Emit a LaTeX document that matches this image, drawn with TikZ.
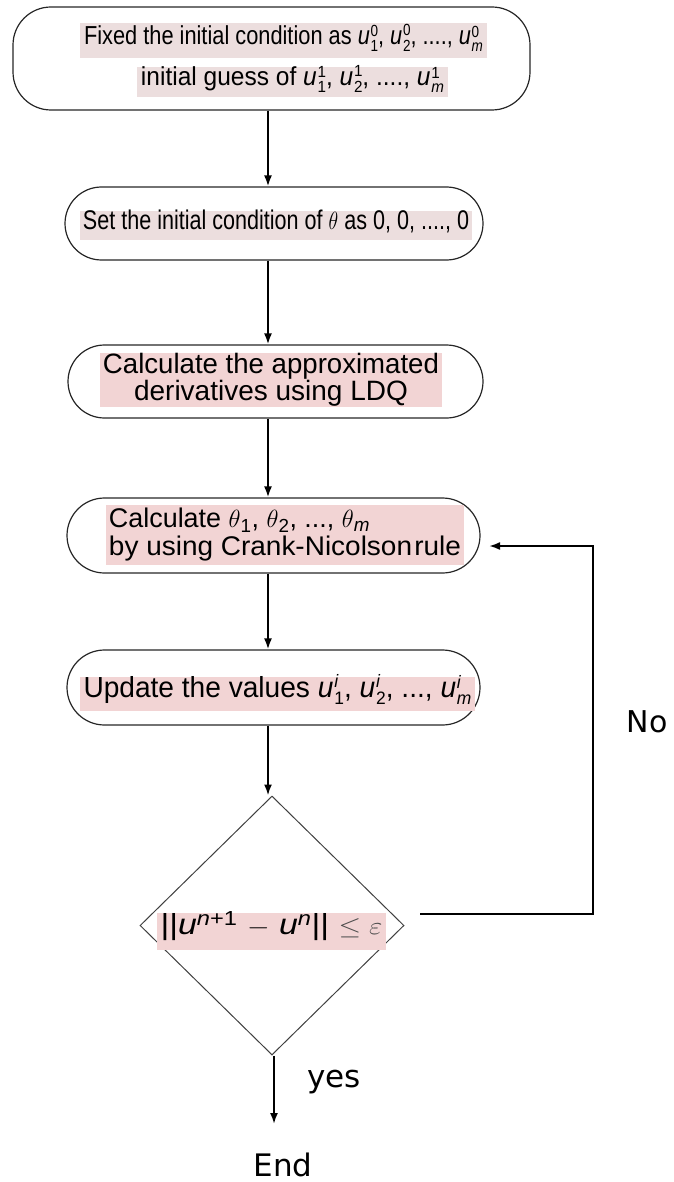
\documentclass[tikz,border=0pt]{standalone}
\usepackage{fontspec}
\setmainfont{Liberation Sans}
\newfontfamily\dejavu{DejaVu Sans}
\usepackage{graphicx}
\usetikzlibrary{shapes.geometric,shapes.misc,arrows.meta,calc}
\newcommand\uu[2]{\textit{u}\kern0.03em\raisebox{-0.26em}{\scalebox{0.62}{\def\arraystretch{0.8}\begin{tabular}[b]{@{}l@{}}#2\\#1\end{tabular}}}}
\newcommand\fw[2]{\resizebox{#1}{\height}{#2}}
\definecolor{hlA}{RGB}{236,222,222}
\definecolor{hlB}{RGB}{242,212,212}
\tikzset{
  pill/.style={draw=black!85, line width=1.2pt, rounded rectangle, minimum height=73pt, inner sep=0pt},
  hl/.style={fill=hlB, inner sep=0pt, text height=0.72em, text depth=0pt},
  hlm/.style={fill=hlB, inner sep=0pt},
  arr/.style={-{Latex[length=11pt,width=8pt]}, line width=1.9pt, black},
  lab/.style={font=\dejavu\fontsize{30}{34}\selectfont, inner sep=0pt}
}
\begin{document}
\begin{tikzpicture}[x=1pt,y=-1pt]
\useasboundingbox (0,0) rectangle (673,1182);
% box 1
\node[draw=black!85, line width=1.2pt, rectangle, rounded corners=38pt, minimum width=517pt, minimum height=103pt] (b1) at (271.5,58.5) {};
\node[hl, fill=hlA, minimum width=407pt, minimum height=35pt, font=\fontsize{26}{28}\selectfont] (t1a) at (283.5,41)
  {\fw{399pt}{Fixed the initial condition as \uu{1}{0}, \uu{2}{0}, ...., \uu{\textit{m}}{0}}};
\node[hl, fill=hlA, minimum width=311pt, minimum height=30pt, font=\fontsize{26}{28}\selectfont] (t1b) at (292.5,82)
  {\fw{303pt}{initial guess of \uu{1}{1}, \uu{2}{1}, ...., \uu{\textit{m}}{1}}};
% box 2
\node[pill, minimum width=418pt] (b2) at (274,223.5) {};
\node[hl, fill=hlA, minimum width=392pt, minimum height=29pt, font=\fontsize{27}{30}\selectfont] (t2) at (276,226)
  {\fw{386pt}{Set the initial condition of $\theta$ as 0, 0, ...., 0}};
% box 3
\node[pill, minimum width=415pt] (b3) at (275.5,381.5) {};
\node[hlm, minimum width=342pt, minimum height=50pt, align=center, font=\fontsize{28}{25}\selectfont] (t3) at (271,380)
  {\fw{336pt}{Calculate the approximated}\\derivatives using LDQ};
% box 4
\node[pill, minimum width=413pt, minimum height=75pt] (b4) at (273.5,535.5) {};
\node[hlm, minimum width=358pt, minimum height=60pt, align=left, font=\fontsize{27}{28}\selectfont] (t4) at (285,535)
  {\fw{261pt}{Calculate $\theta$\textsubscript{1}, $\theta$\textsubscript{2}, ..., $\theta$\textsubscript{\textit{m}}}\\
   \fw{352pt}{by using Crank-Nicolson\hspace{0.08em}rule}};
% box 5
\node[pill, minimum width=413pt, minimum height=75pt] (b5) at (273.5,687.5) {};
\node[hl, minimum width=395pt, minimum height=34pt, font=\fontsize{29}{32}\selectfont] (t5) at (277.5,693.5)
  {\fw{388pt}{Update the values \uu{1}{\textit{i}}, \uu{2}{\textit{i}}, ..., \uu{\textit{m}}{\textit{i}}}};
% decision
\node[draw=black!75, line width=1pt, diamond, aspect=1, minimum width=264pt, minimum height=259pt, inner sep=0pt] (d) at (272,925.5) {};
\node[hl, minimum width=229pt, minimum height=37pt, font=\fontsize{29}{32}\selectfont] (td) at (271.5,931)
  {\fw{222pt}{||\textit{u}\textsuperscript{\textit{n}+1} $-$ \textit{u}\textsuperscript{\textit{n}}|| {\color{black!70}$\le\varepsilon$}}};
% labels
\node[lab] (no) at (647,722) {No};
\node[lab, font=\dejavu\fontsize{31}{34}\selectfont] (yes) at (334,1082) {yes};
\node[lab, font=\dejavu\fontsize{31}{34}\selectfont] (endn) at (283,1165) {End};
% connectors
\coordinate (ax) at (268,0);
\draw[arr] (b1.south -| ax) -- (b2.north -| ax);
\draw[arr] (b2.south -| ax) -- (b3.north -| ax);
\draw[arr] (b3.south -| ax) -- (b4.north -| ax);
\draw[arr] (b4.south -| ax) -- (b5.north -| ax);
\draw[arr] (b5.south -| ax) -- (d.north -| ax);
\coordinate (ae) at (274,1124);
\draw[arr] (d.south -| ae) -- (ae);
\coordinate (ls) at (420,914);
\coordinate (lc) at (593,914);
\coordinate (le) at (489,546);
\draw[arr] (ls) -- (lc) |- (le);
\end{tikzpicture}
\end{document}
